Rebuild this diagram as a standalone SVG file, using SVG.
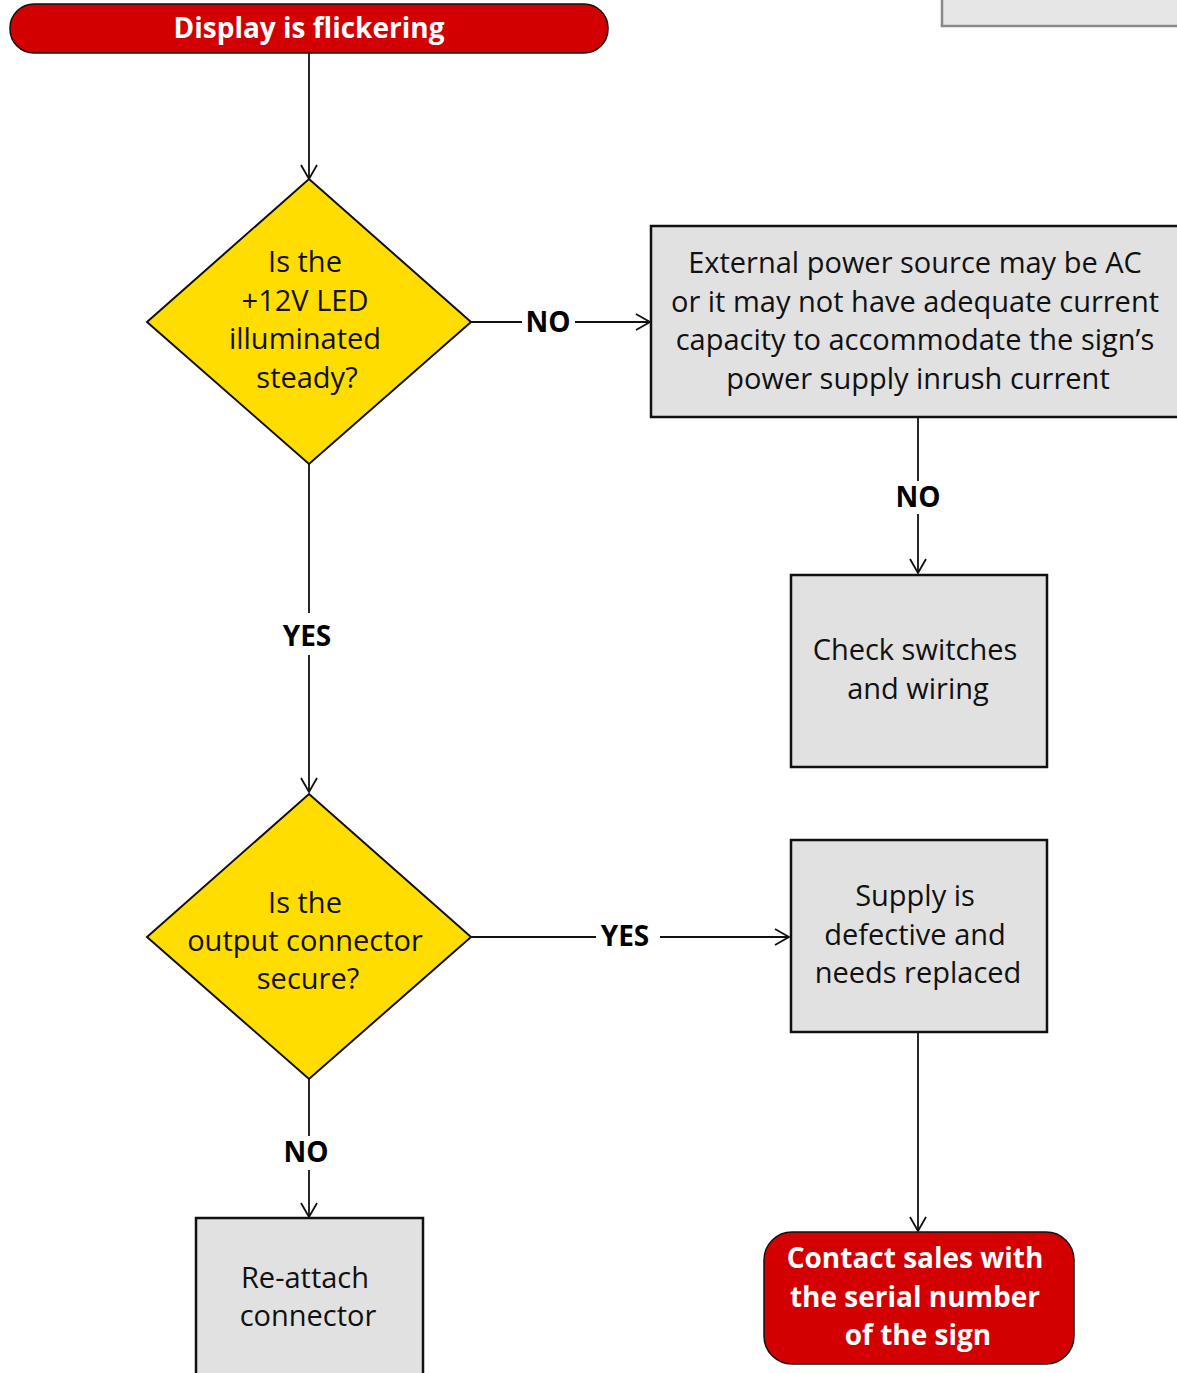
<svg xmlns="http://www.w3.org/2000/svg" width="1177" height="1373" viewBox="0 0 1177 1373">
<style>
.term{fill:#d20000;stroke:#111;stroke-width:1.5}
.dec{fill:#ffdd00;stroke:#111;stroke-width:2}
.box{fill:#e1e1e1;stroke:#111;stroke-width:2.5}
.t{font-family:"Open Sans","Liberation Sans",sans-serif;font-size:29px;fill:#111;text-anchor:middle}
.tw{font-family:"Open Sans","Liberation Sans",sans-serif;font-size:28px;font-weight:bold;fill:#fff;text-anchor:middle}
.lbl{font-family:"Open Sans","Liberation Sans",sans-serif;font-size:28px;font-weight:bold;fill:#000;text-anchor:middle}
.c{fill:none;stroke:#111;stroke-width:1.8}
</style>
<defs>
<marker id="arr" markerUnits="userSpaceOnUse" markerWidth="20" markerHeight="20" refX="15" refY="9" orient="auto">
<path d="M1,1 L15,9 L1,17" fill="none" stroke="#111" stroke-width="1.8"/>
</marker>
</defs>
<rect width="1177" height="1373" fill="#fff"/>
<g id="offpage">
<rect x="942" y="-20" width="250" height="46" fill="#e6e6e6" stroke="#888" stroke-width="2.5"/>
</g>
<g id="connectors">
<line class="c" x1="309" y1="53" x2="309" y2="179" marker-end="url(#arr)"/>
<line class="c" x1="471" y1="322" x2="522" y2="322"/>
<line class="c" x1="575" y1="322" x2="650" y2="322" marker-end="url(#arr)"/>
<text class="lbl" x="548" y="332">NO</text>
<line class="c" x1="918" y1="418" x2="918" y2="481"/>
<line class="c" x1="918" y1="514" x2="918" y2="573" marker-end="url(#arr)"/>
<text class="lbl" x="918" y="507">NO</text>
<line class="c" x1="309" y1="464" x2="309" y2="613"/>
<line class="c" x1="309" y1="655" x2="309" y2="792" marker-end="url(#arr)"/>
<text class="lbl" x="307" y="646">YES</text>
<line class="c" x1="471" y1="937" x2="596" y2="937"/>
<line class="c" x1="660" y1="937" x2="789" y2="937" marker-end="url(#arr)"/>
<text class="lbl" x="625" y="946">YES</text>
<line class="c" x1="918" y1="1033" x2="918" y2="1231" marker-end="url(#arr)"/>
<line class="c" x1="309" y1="1079" x2="309" y2="1136"/>
<line class="c" x1="309" y1="1170" x2="309" y2="1217" marker-end="url(#arr)"/>
<text class="lbl" x="306" y="1162">NO</text>
</g>
<g id="start">
<rect class="term" x="10" y="4" width="598" height="49" rx="24"/>
<text class="tw" x="309" y="38">Display is flickering</text>
</g>
<g id="decision1">
<polygon class="dec" points="309,179 471,322 309,464 147,322"/>
<text class="t" x="305" y="272">Is the</text>
<text class="t" x="305" y="311">+12V LED</text>
<text class="t" x="305" y="349">illuminated</text>
<text class="t" x="307" y="388">steady?</text>
</g>
<g id="external">
<rect class="box" x="651" y="226" width="540" height="191"/>
<text class="t" x="915" y="273">External power source may be AC</text>
<text class="t" x="915" y="312">or it may not have adequate current</text>
<text class="t" x="915" y="350">capacity to accommodate the sign’s</text>
<text class="t" x="918" y="389">power supply inrush current</text>
</g>
<g id="check">
<rect class="box" x="791" y="575" width="256" height="192"/>
<text class="t" x="915" y="660">Check switches</text>
<text class="t" x="918" y="699">and wiring</text>
</g>
<g id="decision2">
<polygon class="dec" points="309,794 471,937 309,1079 147,937"/>
<text class="t" x="305" y="913">Is the</text>
<text class="t" x="305" y="951">output connector</text>
<text class="t" x="308" y="989">secure?</text>
</g>
<g id="supply">
<rect class="box" x="791" y="840" width="256" height="192"/>
<text class="t" x="915" y="906">Supply is</text>
<text class="t" x="915" y="945">defective and</text>
<text class="t" x="918" y="983">needs replaced</text>
</g>
<g id="contact">
<rect class="term" x="764" y="1232" width="310" height="132" rx="28"/>
<text class="tw" x="915" y="1268">Contact sales with</text>
<text class="tw" x="915" y="1307">the serial number</text>
<text class="tw" x="918" y="1345">of the sign</text>
</g>
<g id="reattach">
<rect class="box" x="196" y="1218" width="227" height="180"/>
<text class="t" x="305" y="1288">Re-attach</text>
<text class="t" x="308" y="1326">connector</text>
</g>
</svg>
